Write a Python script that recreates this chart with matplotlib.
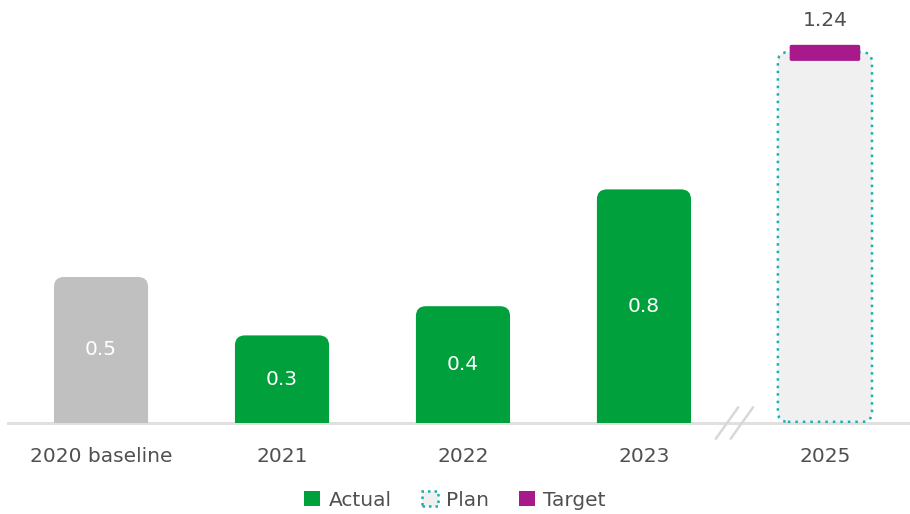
import matplotlib
matplotlib.use("Agg")
import matplotlib.pyplot as plt
from matplotlib.patches import FancyBboxPatch, Patch

plt.rcParams['font.family'] = ['DejaVu Sans']

# data
categories = ['2020 baseline', '2021', '2022', '2023', '2025']
actual_values = [0.5, 0.3, 0.4, 0.8]
plan_value = 1.27
target_value = 1.24
bar_colors = ['#c0c0c0', '#00a03c', '#00a03c', '#00a03c']

GREEN = '#00a03c'
TEAL = '#16b0b0'
MAGENTA = '#a8198c'
TEXT = '#505050'
FS = 14.5

fig = plt.figure(figsize=(9.1, 5.14), dpi=100)
ax = fig.add_axes([8 / 910, 91 / 514, 902 / 910, 410 / 514])
xpos = [0, 1, 2, 3, 4]
ax.set_xlim(-0.514, 4.47)
ax.set_ylim(0, 1.404)

w = 0.52
r = 0.055
asp = 181 / 292.0

def rbar(x, h, fc):
    p = FancyBboxPatch((x - w / 2, -0.06), w, h + 0.06,
                       boxstyle="round,pad=0,rounding_size=%f" % r,
                       mutation_aspect=asp, fc=fc, ec='none')
    ax.add_patch(p)
    return p

for i, v in enumerate(actual_values):
    rbar(xpos[i], v, bar_colors[i])
    ax.text(xpos[i], v / 2, str(v), color='white', ha='center', va='center', fontsize=FS)

# plan bar (dotted outline) and target marker
dots = (0, (1.0, 2.0))
p = FancyBboxPatch((xpos[4] - w / 2, 0.004), w, plan_value - 0.004,
                   boxstyle="round,pad=0,rounding_size=%f" % r,
                   mutation_aspect=asp, fc='#f0f0f0', ec=TEAL,
                   ls=dots, lw=1.8, clip_on=False, zorder=3)
ax.add_patch(p)
tw = 0.39
t = FancyBboxPatch((xpos[4] - tw / 2, target_value), tw, 0.055,
                   boxstyle="round,pad=0,rounding_size=0.01",
                   mutation_aspect=asp, fc=MAGENTA, ec='none', clip_on=False, zorder=4)
ax.add_patch(t)
ax.text(xpos[4], 1.38, f'{target_value:.2f}', color=TEXT, ha='center', va='center', fontsize=FS)

# axis line and break marks
ax.axhline(0, color='#e0e0e0', lw=2.2, zorder=0, clip_on=False)
for cx in [3.459, 3.541]:
    ax.plot([cx - 0.061, cx + 0.061], [-0.053, 0.053], color='#d8d8d8', lw=1.8, clip_on=False)

for s in ax.spines.values():
    s.set_visible(False)
ax.set_yticks([])
ax.set_xticks(xpos)
ax.set_xticklabels(categories, fontsize=FS, color=TEXT)
ax.tick_params(axis='x', length=0, pad=17)

handles = [Patch(fc=GREEN, ec='none', label='Actual'),
           Patch(fc='#f0f0f0', ec=TEAL, ls=(0, (1.0, 1.6)), lw=1.8, label='Plan'),
           Patch(fc=MAGENTA, ec='none', label='Target')]
leg = fig.legend(handles=handles, loc='center', bbox_to_anchor=(0.5, 14 / 514), ncol=3,
                 frameon=False, fontsize=FS, handlelength=0.8, handleheight=0.8,
                 handletextpad=0.4, columnspacing=1.5)
for txt in leg.get_texts():
    txt.set_color(TEXT)

fig.savefig('out.png', dpi=100)
